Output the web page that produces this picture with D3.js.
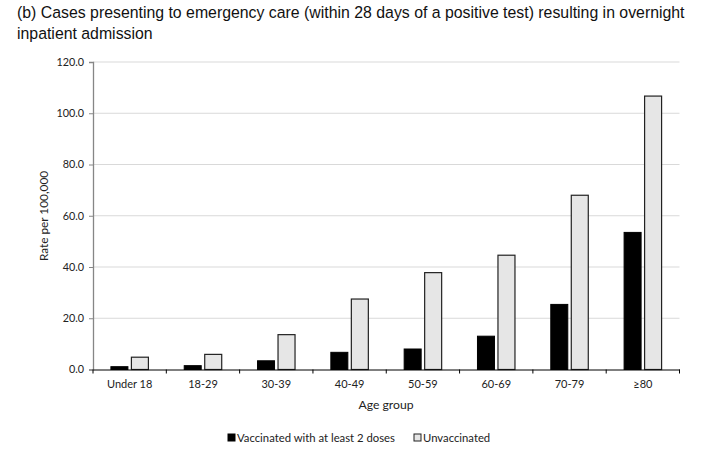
<!DOCTYPE html>
<html><head><meta charset="utf-8">
<script src="https://cdn.jsdelivr.net/npm/d3@7"></script>
<style>body{margin:0;background:#fff}</style>
</head><body>
<svg id="c" width="703" height="466"></svg>
<script>
const categories = ["Under 18","18-29","30-39","40-49","50-59","60-69","70-79","≥80"];
const vaccinated = [1.1,1.5,3.4,6.7,8.0,13.0,25.4,53.5];
const unvaccinated = [4.8,5.9,13.6,27.5,37.8,44.6,68.0,106.7];
const yTicks = [0,20,40,60,80,100,120];
const seriesNames = ["Vaccinated with at least 2 doses","Unvaccinated"];

(function(){
const svg = d3.select("#c");
const mLeft = 93, mRight = 679.5, mTop = 62, mBottom = 369.5;
const x = d3.scaleBand().domain(categories).range([mLeft, mRight]).paddingInner(0).paddingOuter(0);
const y = d3.scaleLinear().domain([0,120]).range([mBottom, mTop]);
const font = "Lato, 'Open Sans', sans-serif";

// title
svg.append("text").attr("x",17).attr("y",18).attr("font-family","'Liberation Sans', Arial, sans-serif").attr("font-size",15.85).attr("fill","#111")
  .text("(b) Cases presenting to emergency care (within 28 days of a positive test) resulting in overnight");
svg.append("text").attr("x",17).attr("y",39).attr("font-family","'Liberation Sans', Arial, sans-serif").attr("font-size",15.85).attr("fill","#111")
  .text("inpatient admission");

// gridlines
svg.append("g").selectAll("line").data(yTicks.filter(d=>d>0)).join("line")
  .attr("x1",mLeft).attr("x2",mRight).attr("y1",d=>y(d)).attr("y2",d=>y(d))
  .attr("stroke","#d9d9d9").attr("stroke-width",1);

// y axis
const ya = svg.append("g").attr("transform",`translate(${mLeft},0)`)
  .call(d3.axisLeft(y).tickValues(yTicks).tickFormat(d3.format(".1f")).tickSize(4).tickPadding(5));
ya.select(".domain").attr("stroke","#868686").attr("stroke-width",1.3);
ya.selectAll(".tick line").attr("stroke","#868686");
ya.selectAll("text").attr("font-family",font).attr("font-size",10.8).attr("fill","#222");

// bars
const bw = 17, gap = 3.5;
const g = svg.append("g");
categories.forEach((c,i)=>{
  const cx = x(c) + x.bandwidth()/2;
  g.append("rect").attr("x",cx - gap/2 - bw).attr("y",y(vaccinated[i])).attr("width",bw).attr("height",y(0)-y(vaccinated[i]))
    .attr("fill","#000").attr("stroke","#000").attr("stroke-width",1);
  g.append("rect").attr("x",cx + gap/2).attr("y",y(unvaccinated[i])).attr("width",bw).attr("height",y(0)-y(unvaccinated[i]))
    .attr("fill","#e6e6e6").attr("stroke","#222").attr("stroke-width",1.2);
});

// x axis
const xa = svg.append("g").attr("transform",`translate(0,${mBottom})`)
  .call(d3.axisBottom(x).tickSize(0).tickPadding(11));
xa.select(".domain").attr("stroke","#000").attr("stroke-width",1);
xa.selectAll("text").attr("font-family",font).attr("font-size",11).attr("fill","#222");
svg.append("g").selectAll("line").data(d3.range(categories.length+1)).join("line")
  .attr("x1",i=>mLeft + i*x.bandwidth()).attr("x2",i=>mLeft + i*x.bandwidth())
  .attr("y1",mBottom).attr("y2",mBottom+4).attr("stroke","#000");

// axis titles
svg.append("text").attr("transform","translate(48,216) rotate(-90)").attr("text-anchor","middle")
  .attr("font-family",font).attr("font-size",11.8).attr("fill","#222").text("Rate per 100,000");
svg.append("text").attr("x",386).attr("y",409).attr("text-anchor","middle")
  .attr("font-family",font).attr("font-size",12.2).attr("fill","#222").text("Age group");

// legend
const lg = svg.append("g").attr("font-family",font).attr("font-size",11.3).attr("fill","#222");
lg.append("rect").attr("x",228).attr("y",434).attr("width",7).attr("height",7).attr("fill","#000").attr("stroke","#000");
lg.append("text").attr("x",237).attr("y",442).text(seriesNames[0]);
lg.append("rect").attr("x",414).attr("y",434).attr("width",7).attr("height",7).attr("fill","#e6e6e6").attr("stroke","#222");
lg.append("text").attr("x",423).attr("y",442).text(seriesNames[1]);
})();
</script>
</body></html>
